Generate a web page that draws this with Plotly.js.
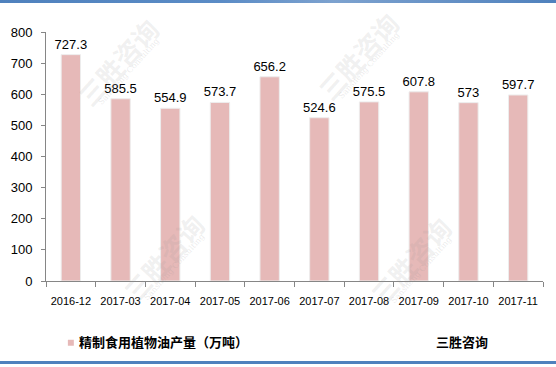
<!DOCTYPE html>
<html><head><meta charset="utf-8">
<script src="https://cdn.plot.ly/plotly-3.0.1.min.js"></script>
<style>
html,body{margin:0;padding:0;background:#fff;}
#wrap{position:relative;width:556px;height:367px;overflow:hidden;}
#chart{width:556px;height:367px;}
.bar-top{position:absolute;left:0;top:0;width:556px;height:3px;background:linear-gradient(90deg,#4f81bd 0%,#5b8cc6 40%,#7da2cf 60%,#4f81bd 100%);}
.bar-bot{position:absolute;left:0;top:361px;width:556px;height:3px;background:#4f81bd;}
</style></head>
<body><div id="wrap"><div id="chart"></div><div class="bar-top"></div><div class="bar-bot"></div></div>
<script>
const categories = ["2016-12","2017-03","2017-04","2017-05","2017-06","2017-07","2017-08","2017-09","2017-10","2017-11"];
const values = [727.3, 585.5, 554.9, 573.7, 656.2, 524.6, 575.5, 607.8, 573, 597.7];
const seriesName = "精制食用植物油产量（万吨）";
const sourceText = "三胜咨询";
const watermarkText = "三胜咨询";
const watermarkSub = "Sansheng Consulting";
const yTicks = [0,100,200,300,400,500,600,700,800];
const barColor = '#e6b9b8';

const trace = {
  type: 'bar',
  x: categories,
  y: values,
  name: seriesName,
  marker: {color: barColor, line: {color: '#ededed', width: 1}},
  text: values.map(v => String(v)),
  textposition: 'outside',
  constraintext: 'none',
  cliponaxis: false,
  textfont: {family: 'Liberation Sans, Arial, sans-serif', size: 13, color: '#000'},
  hoverinfo: 'x+y'
};

// watermark placements (paper fractions)
const wmSpots = [[0.145, 0.88], [0.628, 0.905], [0.235, 0.096], [0.732, 0.084]];
const wmAnn = [];
wmSpots.forEach(([x, y]) => {
  wmAnn.push({text: watermarkText, xref: 'paper', yref: 'paper', x: x, y: y, xanchor: 'center', yanchor: 'middle',
    showarrow: false, textangle: -48,
    font: {family: 'Noto Sans CJK SC, sans-serif', size: 26, color: 'rgba(150,150,150,0.14)', weight: 'bold'}});
  wmAnn.push({text: watermarkSub, xref: 'paper', yref: 'paper', x: x + 0.022, y: y - 0.04, xanchor: 'center', yanchor: 'middle',
    showarrow: false, textangle: -48,
    font: {family: 'DejaVu Serif, serif', size: 8, color: 'rgba(150,150,150,0.2)'}});
});

const layout = {
  width: 556, height: 367,
  margin: {l: 46, r: 13, t: 32, b: 86},
  paper_bgcolor: '#fff', plot_bgcolor: '#fff',
  bargap: 0.61,
  showlegend: false,
  xaxis: {
    type: 'category', showgrid: false, showline: true, linecolor: '#868686', linewidth: 1,
    ticks: 'outside', tickson: 'boundaries', ticklen: 5, tickcolor: '#868686', tickangle: 0,
    automargin: false, ticklabelstandoff: 10,
    tickfont: {family: 'Liberation Sans, Arial, sans-serif', size: 11, color: '#000'}
  },
  yaxis: {
    range: [0, 800], tickvals: yTicks, showgrid: false, zeroline: false,
    showline: true, linecolor: '#868686', linewidth: 1,
    ticks: 'outside', ticklen: 4, tickcolor: '#868686', automargin: false, ticklabelstandoff: 6,
    tickfont: {family: 'Liberation Sans, Arial, sans-serif', size: 13, color: '#000'}
  },
  shapes: [
    {type: 'rect', xref: 'paper', yref: 'paper', x0: 0.044, x1: 0.056, y0: -0.236, y1: -0.26,
     fillcolor: barColor, line: {width: 0}}
  ],
  annotations: wmAnn.concat([
    {text: seriesName, xref: 'paper', yref: 'paper', x: 0.062, y: -0.243, xanchor: 'left', yanchor: 'middle',
     showarrow: false, font: {family: 'Noto Sans CJK SC, sans-serif', size: 13, color: '#000', weight: 'bold'}},
    {text: sourceText, xref: 'paper', yref: 'paper', x: 0.838, y: -0.243, xanchor: 'center', yanchor: 'middle',
     showarrow: false, font: {family: 'Noto Sans CJK SC, sans-serif', size: 13, color: '#000', weight: 'bold'}}
  ])
};
Plotly.newPlot('chart', [trace], layout, {displayModeBar: false, staticPlot: true});
</script></body></html>
